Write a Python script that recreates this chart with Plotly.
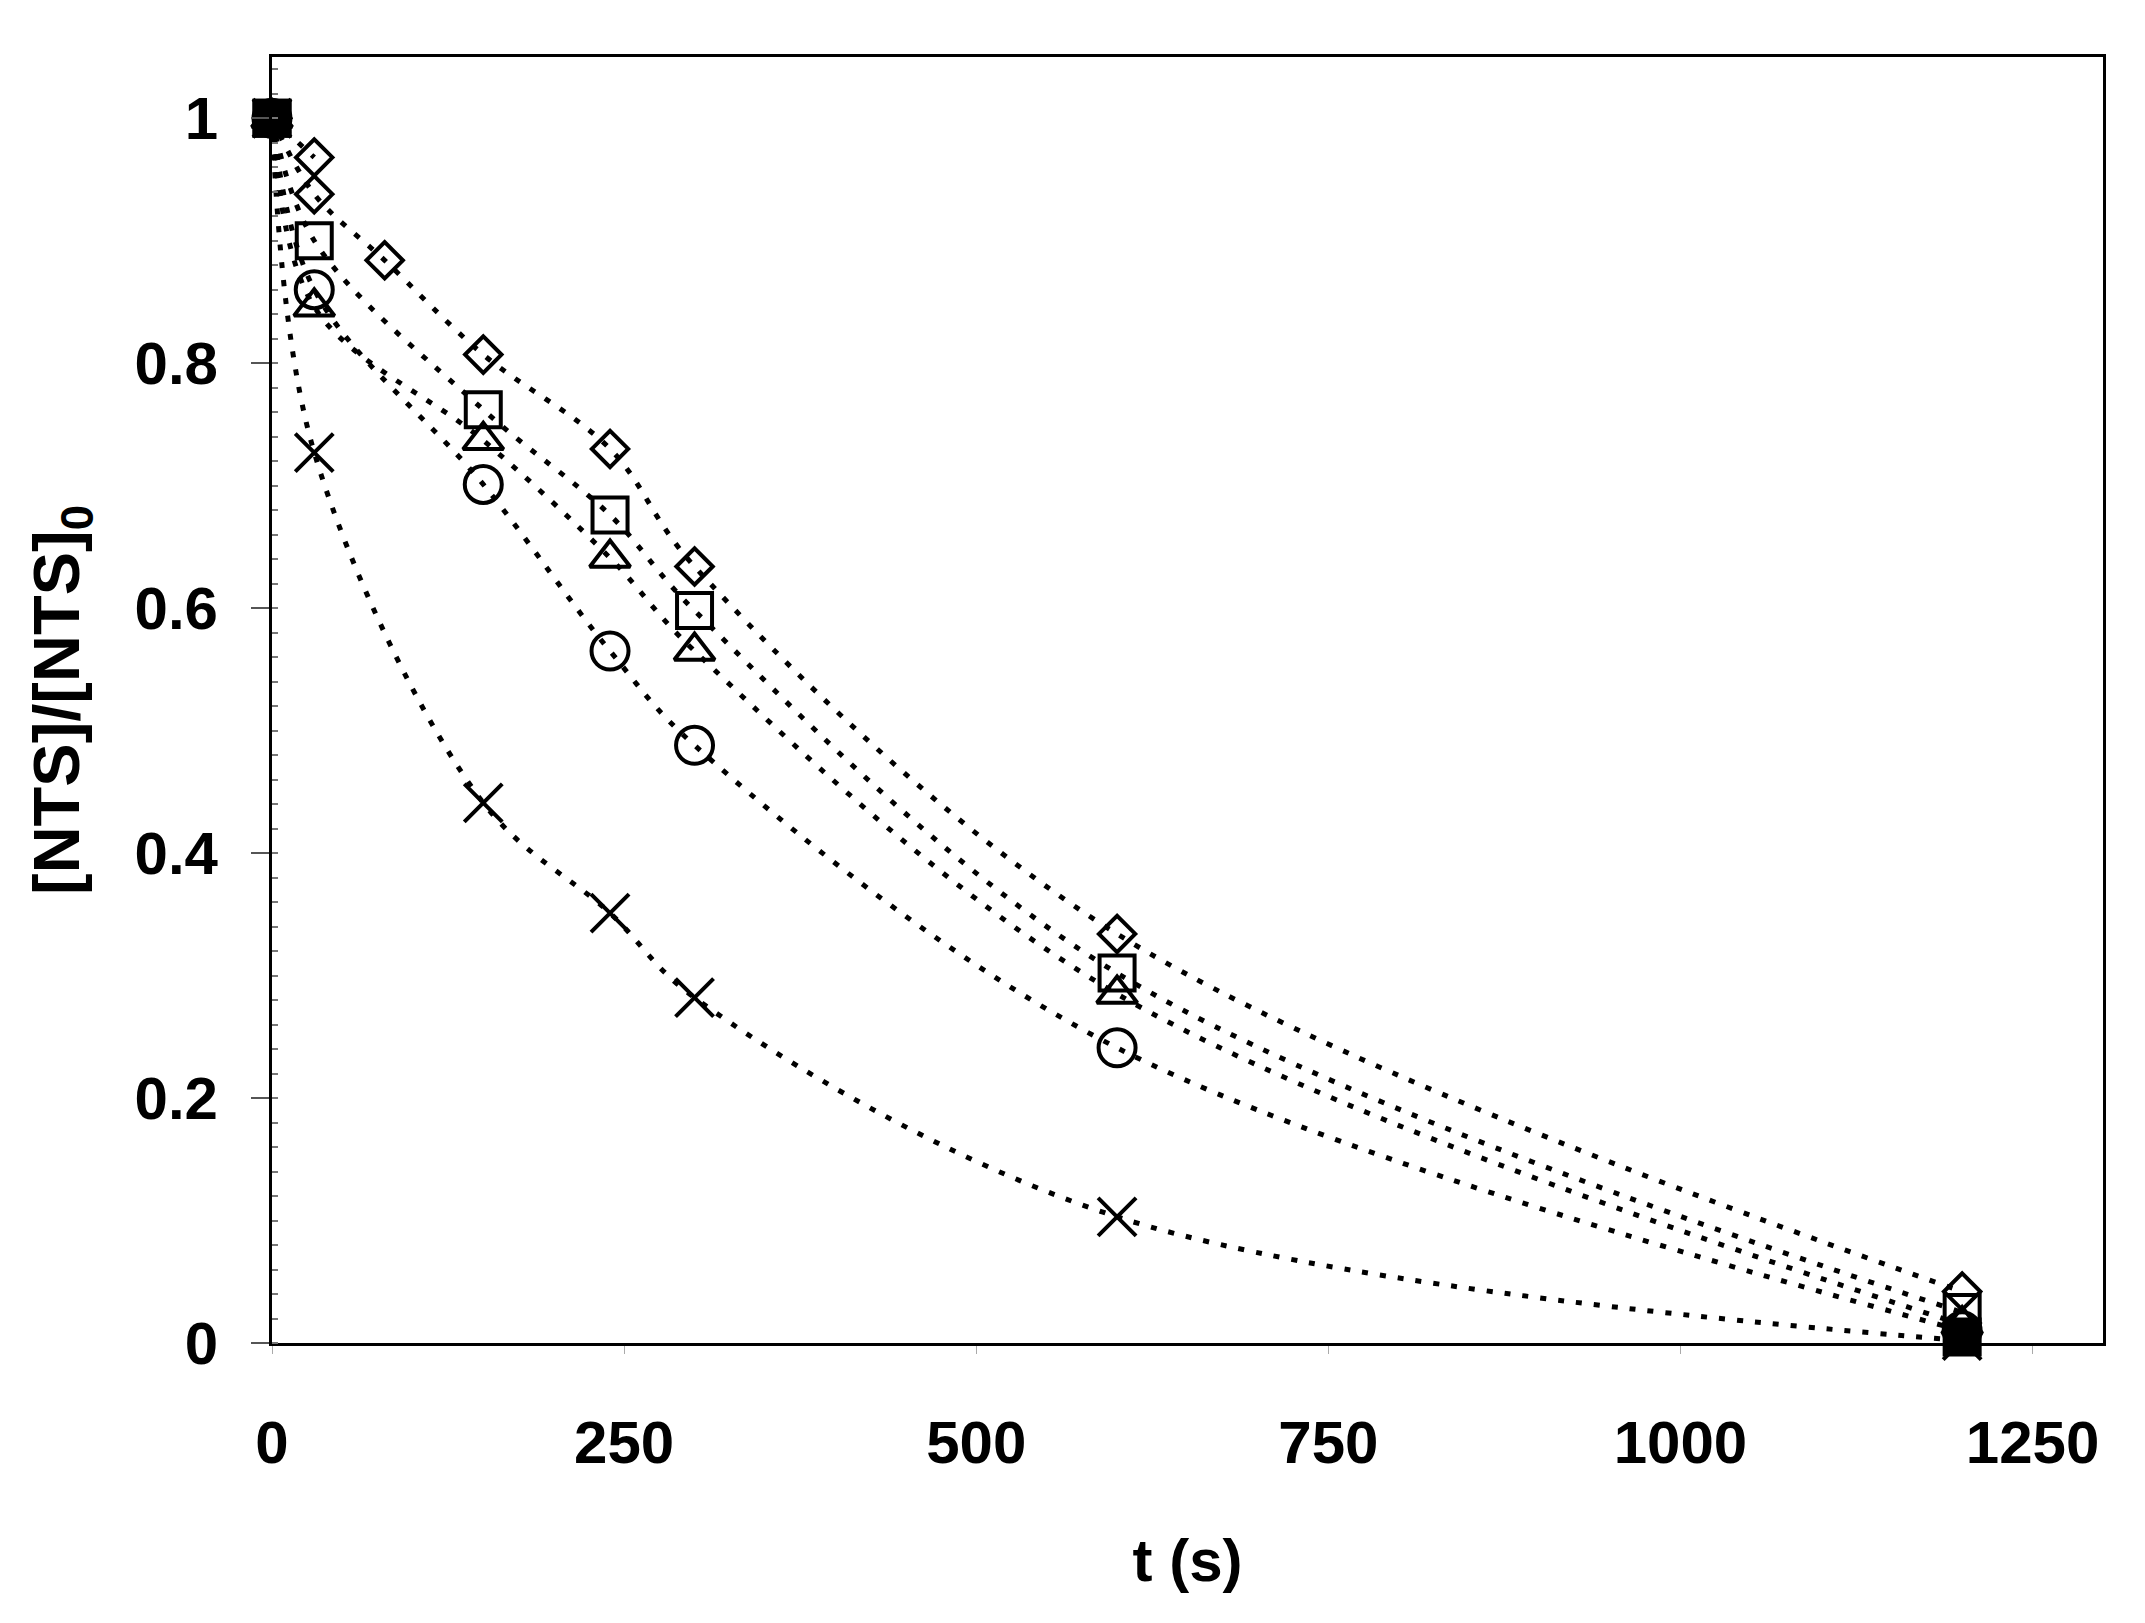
import plotly.graph_objects as go

# ---- data ----
t_main = [0, 30, 150, 240, 300, 600, 1200]
t_diamond = [0, 30, 80, 150, 240, 300, 600, 1200]
y_diamond = [1.0, 0.938, 0.884, 0.807, 0.730, 0.634, 0.334, 0.042]
t_diamond_extra = [0, 30]
y_diamond_extra = [1.0, 0.968]
y_square = [1.0, 0.900, 0.762, 0.676, 0.598, 0.302, 0.025]
y_triangle = [1.0, 0.846, 0.737, 0.641, 0.565, 0.285, 0.015]
y_circle = [1.0, 0.860, 0.701, 0.565, 0.488, 0.241, 0.010]
y_cross = [1.0, 0.727, 0.441, 0.351, 0.282, 0.103, 0.002]
t_filled = [0, 1200]
y_filled = [1.0, 0.005]

x_ticks = [0, 250, 500, 750, 1000, 1250]
y_ticks = [0, 0.2, 0.4, 0.6, 0.8, 1]

FONT = "Liberation Sans, Arial, sans-serif"
LINE = dict(color="black", width=5, dash="6px,12px", shape="spline", smoothing=1.0)


def series(x, y, symbol, size, lw=4, mode="lines+markers"):
    return go.Scatter(
        x=x, y=y, mode=mode,
        line=LINE,
        marker=dict(symbol=symbol, size=size, color="black",
                    line=dict(color="black", width=lw)),
        showlegend=False, cliponaxis=False,
    )


fig = go.Figure()
fig.add_trace(series(t_main, y_cross, "x-thin-open", 38, lw=4))
fig.add_trace(series(t_main, y_circle, "circle-open", 37))
fig.add_trace(series(t_main, y_triangle, "triangle-up-open", 35))
fig.add_trace(series(t_main, y_square, "square-open", 35))
fig.add_trace(series(t_diamond, y_diamond, "diamond-open", 28))
fig.add_trace(series(t_diamond_extra, y_diamond_extra, "diamond-open", 28))
fig.add_trace(series(t_filled, y_filled, "square", 35, mode="markers"))

axis_common = dict(
    showline=True, linecolor="black", linewidth=3, mirror=True,
    showgrid=False, zeroline=False,
    tickfont=dict(family=FONT, size=60, color="black", weight="bold"),
)

fig.update_xaxes(
    range=[0, 1300], tickvals=x_ticks, ticktext=[str(v) for v in x_ticks],
    ticks="outside", ticklen=8, tickwidth=1, tickcolor="#aaaaaa",
    ticklabelstandoff=37,
    title=dict(text="t (s)", font=dict(family=FONT, size=60, color="black", weight="bold"),
               standoff=64),
    **axis_common,
)
fig.update_yaxes(
    range=[0, 1.05], tickvals=y_ticks, ticktext=["0", "0.2", "0.4", "0.6", "0.8", "1"],
    ticks="outside", ticklen=18, tickwidth=2, tickcolor="#555555",
    ticklabelstandoff=21,
    minor=dict(dtick=0.02, ticks="inside", ticklen=6, tickwidth=2, tickcolor="#777777"),
    title=dict(text="[NTS]/[NTS]<sub>0</sub>",
               font=dict(family=FONT, size=65, color="black", weight="bold"),
               standoff=34),
    **axis_common,
)

fig.update_layout(
    width=2145, height=1623,
    margin=dict(l=264, r=50, t=49, b=288, autoexpand=False),
    paper_bgcolor="white", plot_bgcolor="white",
)

fig.write_html("out.html")
